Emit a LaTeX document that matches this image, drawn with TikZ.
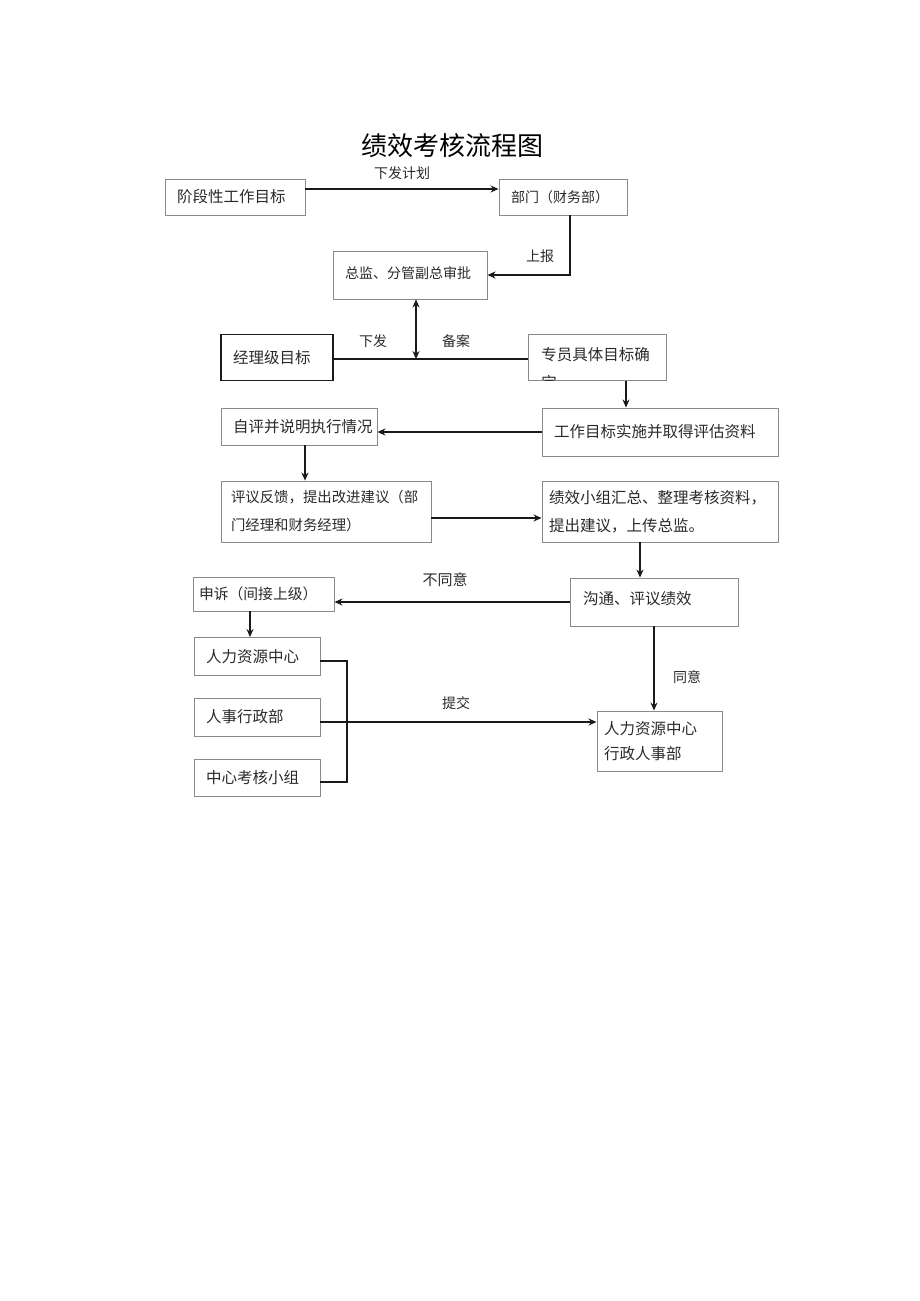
\documentclass[tikz,border=0pt]{standalone}
\usepackage{fontspec}
\setmainfont{Liberation Serif}
\newfontfamily\cjk{Noto Sans CJK SC}
\usetikzlibrary{arrows.meta,calc}
\definecolor{boxgray}{HTML}{8A8A8A}
\definecolor{txt}{HTML}{2A2A2A}
\definecolor{lnc}{HTML}{1A1A1A}
\begin{document}
\begin{tikzpicture}[x=1pt,y=-1pt,
  box/.style={draw=boxgray, line width=0.9pt, inner ysep=0pt, inner xsep=12pt, align=left, text=txt, font=\cjk\fontsize{15.5}{24}\selectfont},
  small/.style={font=\cjk\fontsize{14}{24}\selectfont},
  arr/.style={draw=lnc, line width=1.5pt, -{Stealth[length=8pt,width=7pt]}},
  darr/.style={draw=lnc, line width=1.5pt, {Stealth[length=8pt,width=7pt]}-{Stealth[length=8pt,width=7pt]}},
  ln/.style={draw=lnc, line width=1.5pt},
  lbl/.style={text=txt, font=\cjk\fontsize{14}{16}\selectfont, inner sep=0pt}]
\useasboundingbox (0,0) rectangle (920,1301);
% title
\node[text=black, font=\cjk\fontsize{26}{30}\selectfont, inner sep=0pt] (title) at (452,146) {绩效考核流程图};
% boxes
\node[box, minimum width=140pt, minimum height=36pt, text width=116pt] (a) at (235,197) {阶段性工作目标};
\node[box, small, minimum width=128pt, minimum height=36pt, text width=104pt] (b) at (563,197) {部门（财务部）};
\node[box, small, minimum width=154pt, minimum height=48pt, text width=130pt] (c) at (410,275) {\raisebox{5pt}{总监、分管副总审批}};
\node[box, draw=lnc, line width=1.6pt, minimum width=112pt, minimum height=46pt, text width=88pt] (d) at (277,357.5) {经理级目标};
\node[box, minimum width=138pt, minimum height=46pt] (e) at (597,357.5) {};
\begin{scope}
  \clip (e.south west) rectangle (e.north east);
  \node[box, draw=none, anchor=north west, inner xsep=0pt, text width=130pt, font=\cjk\fontsize{15.5}{27.5}\selectfont] (etxt) at (541,347) {专员具体目标确\\定};
\end{scope}
\node[box, minimum width=236pt, minimum height=48pt, text width=212pt] (f) at (660,432) {工作目标实施并取得评估资料};
\node[box, minimum width=156pt, minimum height=37pt, text width=132pt] (g) at (299,426.5) {自评并说明执行情况};
\node[box, font=\cjk\fontsize{14.4}{28}\selectfont, minimum width=210pt, minimum height=61pt, text width=190pt, inner xsep=10pt] (h) at (326,511.5) {评议反馈，提出改进建议（部\\门经理和财务经理）};
\node[box, font=\cjk\fontsize{15.5}{28}\selectfont, minimum width=236pt, minimum height=61pt, text width=222pt, inner xsep=7pt] (i) at (660,511.5) {绩效小组汇总、整理考核资料，\\提出建议，上传总监。};
\node[box, minimum width=168pt, minimum height=48pt, text width=142pt, inner xsep=13pt] (j) at (654,602) {\raisebox{8pt}{沟通、评议绩效}};
\node[box, font=\cjk\fontsize{14.8}{24}\selectfont, minimum width=141pt, minimum height=34pt, text width=129pt, inner xsep=6pt] (k) at (263.5,594) {申诉（间接上级）};
\node[box, minimum width=126pt, minimum height=38pt, text width=102pt] (l) at (257,656.5) {人力资源中心};
\node[box, minimum width=126pt, minimum height=38pt, text width=102pt] (m) at (257,717) {人事行政部};
\node[box, minimum width=126pt, minimum height=37pt, text width=102pt] (n) at (257,777.5) {中心考核小组};
\node[box, font=\cjk\fontsize{15.5}{25}\selectfont, minimum width=125pt, minimum height=60pt, text width=111pt, inner xsep=7pt] (o) at (659.5,741) {人力资源中心\\行政人事部};
% labels
\node[lbl] (l1) at (402,173) {下发计划};
\node[lbl] (l2) at (540,256) {上报};
\node[lbl] (l3) at (373,341) {下发};
\node[lbl] (l4) at (456,341) {备案};
\node[lbl, font=\cjk\fontsize{15}{16}\selectfont] (l5) at (445,580) {不同意};
\node[lbl] (l6) at (456,703) {提交};
\node[lbl] (l7) at (687,677) {同意};
% helper coordinates
\coordinate (y189) at (0,189);
\coordinate (x570) at (570,0);
\coordinate (mid) at (416,359);
\coordinate (x626) at (626,0);
\coordinate (x305) at (305,0);
\coordinate (y518) at (0,518);
\coordinate (x640) at (640,0);
\coordinate (y602) at (0,602);
\coordinate (x250) at (250,0);
\coordinate (br1) at (347,661);
\coordinate (br2) at (347,782);
\coordinate (y722) at (0,722);
\coordinate (x654) at (654,0);
% connectors
\draw[arr] (a.east |- y189) -- (b.west |- y189);
\draw[arr] (b.south -| x570) |- (c.east);
\draw[ln] (d.east |- mid) -- (e.west |- mid);
\draw[darr] (mid) -- (mid |- c.south);
\draw[arr] (e.south -| x626) -- (f.north -| x626);
\draw[arr] (f.west) -- (f.west -| g.east);
\draw[arr] (g.south -| x305) -- (h.north -| x305);
\draw[arr] (h.east |- y518) -- (i.west |- y518);
\draw[arr] (i.south -| x640) -- (j.north -| x640);
\draw[arr] (j.west) -- (k.east |- y602);
\draw[arr] (k.south -| x250) -- (l.north -| x250);
\draw[ln] (l.east |- br1) -- (br1) -- (br2) -- (n.east |- br2);
\draw[arr] (m.east |- y722) -- (o.west |- y722);
\draw[arr] (j.south -| x654) -- (o.north -| x654);
\end{tikzpicture}
\end{document}
